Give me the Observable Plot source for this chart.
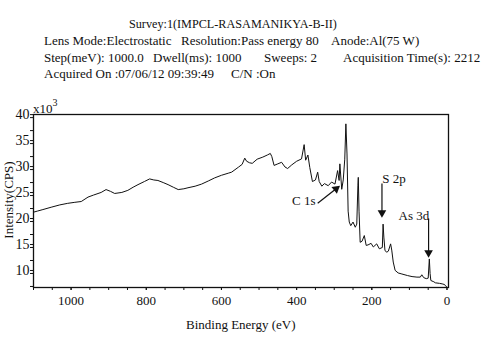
<!DOCTYPE html>
<html>
<head>
<meta charset="utf-8">
<script src="https://cdn.jsdelivr.net/npm/d3@7"></script>
<script src="https://cdn.jsdelivr.net/npm/@observablehq/plot@0.6"></script>
<style>
  html, body { margin: 0; padding: 0; background: white; }
  #wrap { position: relative; width: 500px; height: 359px; overflow: hidden; font-family: "Liberation Serif", "DejaVu Serif", serif; color: #111; }
  .t { position: absolute; white-space: pre; font-size: 13px; line-height: 1; }
  #chart { position: absolute; left: 0; top: 90px; }
</style>
</head>
<body>
<div id="wrap">
  <div class="t" style="left:129px; top:18px; font-size:12.2px;">Survey:1(IMPCL-RASAMANIKYA-B-II)</div>
  <div class="t" style="left:44px; top:34px;">Lens Mode:Electrostatic</div>
  <div class="t" style="left:181px; top:34px;">Resolution:Pass energy 80</div>
  <div class="t" style="left:331px; top:34px;">Anode:Al(75 W)</div>
  <div class="t" style="left:44px; top:51px;">Step(meV): 1000.0</div>
  <div class="t" style="left:153px; top:51px;">Dwell(ms): 1000</div>
  <div class="t" style="left:264px; top:51px;">Sweeps: 2</div>
  <div class="t" style="left:343px; top:51px;">Acquisition Time(s): 2212</div>
  <div class="t" style="left:44px; top:67px;">Acquired On :07/06/12 09:39:49</div>
  <div class="t" style="left:231px; top:67px;">C/N :On</div>
  <div id="chart"></div>
  <div class="t" style="left:33px; top:102px;">x10<span style="font-size:10px; position:relative; top:-7px;">3</span></div>
  <div class="t" style="left:186px; top:318px;">Binding Energy (eV)</div>
  <div class="t" style="left:8px; top:200px; transform: translate(-50%,-50%) rotate(-90deg);">Intensity(CPS)</div>
</div>
<script>
// Binding energy (eV) and intensity (x10^3 CPS)
const bindingEnergy = [1100,1090,1075,1053,1030,1009,990,973,955,940,920,907,895,884,865,849,835,822,805,791,780,769,755,742,728,715,700,689,670,653,635,618,600,582,573,555,545,538,533,525,518,505,490,478,470,466,460,450,440,431,424,413,400,387,380,376,370,365,358,350,344,340,333,326,316,307,298,291,287,285,280,276,272,269,266,263,260,256,250,244,240,237,236,234,231,226,220,215,210,202,196,187,180,172,170,168,165,160,156,150,147,143,138,130,120,105,93,80,71,67,62,55,50,47,45,43,35,31,20,13,8,4,0];
const intensity = [21.8,22.0,22.3,22.75,23.2,23.5,23.7,23.85,24.7,25.1,25.6,26.15,25.8,25.4,25.6,26.0,26.6,27.1,27.7,28.2,28.0,27.9,27.5,27.1,26.6,26.15,26.3,26.5,26.8,27.2,27.8,28.4,28.9,29.3,29.5,30.45,31.0,32.2,31.6,31.3,31.2,32.0,32.4,32.8,33.1,32.5,30.8,31.1,31.4,30.5,30.2,30.9,31.6,32.05,34.8,31.8,32.8,30.4,27.7,28.0,29.5,27.7,26.8,27.3,26.9,27.6,27.2,29.8,27.9,31.1,26.2,28.0,32.0,38.8,33.0,22.0,19.9,19.2,19.9,18.9,19.5,27.0,28.5,22.0,16.0,16.2,17.3,15.4,15.5,15.8,15.1,15.7,14.75,15.0,19.5,17.0,14.4,14.1,14.3,15.7,14.5,12.2,10.6,10.1,9.9,9.6,9.4,9.3,9.3,9.75,9.2,9.0,9.1,12.8,10.0,8.65,8.4,8.2,8.1,8.0,7.9,7.7,7.3];

const xTicks = [1000, 800, 600, 400, 200, 0];
const yTicks = [10, 15, 20, 25, 30, 35, 40];

// Peak annotations
const peakLabels = ["C 1s", "S 2p", "As 3d"];
const labelBE = [381, 172, 129];
const labelI = [24.0, 28.2, 21.0];
const labelAnchor = ["middle", "start", "start"];
const arrowFromBE = [344, 173, 49];
const arrowFromI = [23.5, 27.3, 20.6];
const arrowHeadBE = [295, 173, 49];
const arrowHeadI = [26.3, 21.7, 14.0];
const arrowRotate = [51, 180, 180];

const spectrum = bindingEnergy.map((e, i) => ({e, v: intensity[i]}));
const notes = peakLabels.map((t, i) => ({
  t, lx: labelBE[i], ly: labelI[i], anchor: labelAnchor[i],
  x1: arrowFromBE[i], y1: arrowFromI[i], x2: arrowHeadBE[i], y2: arrowHeadI[i], rot: arrowRotate[i]
}));

const chart = Plot.plot({
  width: 500,
  height: 269,
  marginTop: 24,
  marginBottom: 72,
  marginLeft: 33,
  marginRight: 52,
  style: {fontFamily: "Liberation Serif", fontSize: "13px", background: "white", color: "#111"},
  x: {domain: [1100, -4]},
  y: {domain: [7.3, 40.6]},
  marks: [
    Plot.axisX({ticks: d3.range(0, 1101, 50), tickSize: 3, text: null, label: null}),
    Plot.axisX({ticks: xTicks, tickSize: 3, tickPadding: 5, tickFormat: d3.format("d"), label: null, fontSize: 13}),
    Plot.axisY({ticks: d3.range(7.5, 40.1, 2.5), tickSize: 3, text: null, label: null}),
    Plot.axisY({ticks: yTicks, tickSize: 3, tickPadding: 1, label: null, fontSize: 14, dy: -3}),
    Plot.frame({stroke: "#111", strokeWidth: 1.3}),
    Plot.line(spectrum, {x: "e", y: "v", stroke: "#111", strokeWidth: 1, curve: "linear"}),
    Plot.link(notes, {x1: "x1", y1: "y1", x2: "x2", y2: "y2", stroke: "#111", strokeWidth: 1.2}),
    Plot.dot(notes, {x: "x2", y: "y2", symbol: "triangle", r: 3.2, fill: "#111", stroke: "none", rotate: "rot"}),
    Plot.text(notes.filter(d => d.anchor === "middle"), {x: "lx", y: "ly", text: "t", textAnchor: "middle", fontSize: 13, fill: "#111"}),
    Plot.text(notes.filter(d => d.anchor === "start"), {x: "lx", y: "ly", text: "t", textAnchor: "start", fontSize: 13, fill: "#111"})
  ]
});
document.getElementById("chart").appendChild(chart);
</script>
</body>
</html>
